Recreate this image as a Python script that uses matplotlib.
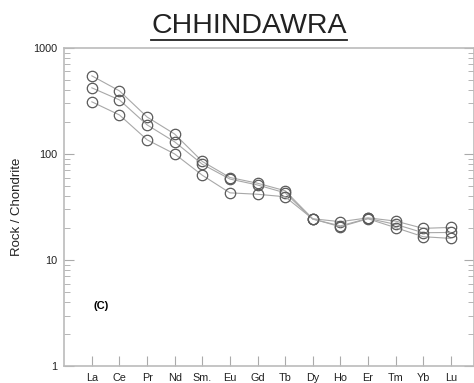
import matplotlib.pyplot as plt
from matplotlib.lines import Line2D

plt.rcParams['font.family'] = ['Liberation Sans', 'DejaVu Sans']

# REE pattern, chondrite normalised
elements = ['La', 'Ce', 'Pr', 'Nd', 'Sm.', 'Eu', 'Gd', 'Tb', 'Dy', 'Ho', 'Er', 'Tm', 'Yb', 'Lu']
sample_1 = [545, 393, 223, 154, 85, 60, 53, 45, 24.5, 23.0, 25.0, 23.3, 19.9, 20.3]
sample_2 = [420, 323, 188, 130, 80, 58, 51, 43, 24.3, 21.0, 24.7, 21.7, 18.1, 18.2]
sample_3 = [310, 233, 136, 100, 63, 43, 41.7, 39.5, 24.4, 20.6, 24.5, 20.2, 16.6, 16.0]

fig = plt.figure(figsize=(4.74, 3.83), dpi=100)
ax = fig.add_axes([0.135, 0.044, 0.865, 0.831])

x = list(range(len(elements)))
for s in [sample_1, sample_2, sample_3]:
    ax.plot(x, s, color='#a8a8a8', lw=0.8, marker='o', ms=7.5,
            mfc='none', mec='#5a5a5a', mew=0.9)

ax.set_yscale('log')
ax.set_ylim(1, 1000)
ax.set_xlim(-1.01, 13.84)
ax.set_xticks(x)
ax.set_xticklabels(elements, fontsize=7.8, color='#222222')
ax.set_yticks([1, 10, 100, 1000])
ax.set_yticklabels(['1', '10', '100', '1000'], fontsize=7.8, color='#222222')
ax.tick_params(axis='both', which='both', direction='in', color='#aaaaaa', right=True)
ax.tick_params(axis='both', which='major', length=7, pad=5)
ax.tick_params(axis='y', which='minor', length=4)
for sp in ax.spines.values():
    sp.set_color('#bbbbbb')
    sp.set_linewidth(1.2)

ax.set_ylabel('Rock / Chondrite', fontsize=9.5, color='#222222', labelpad=7)
ax.text(0.073, 0.19, '(C)', transform=ax.transAxes, fontsize=8,
        fontweight='bold', va='center')

title = fig.text(0.525, 0.932, 'CHHINDAWRA', ha='center', va='center',
                 fontsize=20.5, color='#222222')
fig.canvas.draw()
bb = title.get_window_extent().transformed(fig.transFigure.inverted())
fig.add_artist(Line2D([bb.x0, bb.x1], [bb.y0 - 0.002, bb.y0 - 0.002],
                      transform=fig.transFigure, color='#222222', lw=1.3))

fig.savefig('out.png', dpi=100)
